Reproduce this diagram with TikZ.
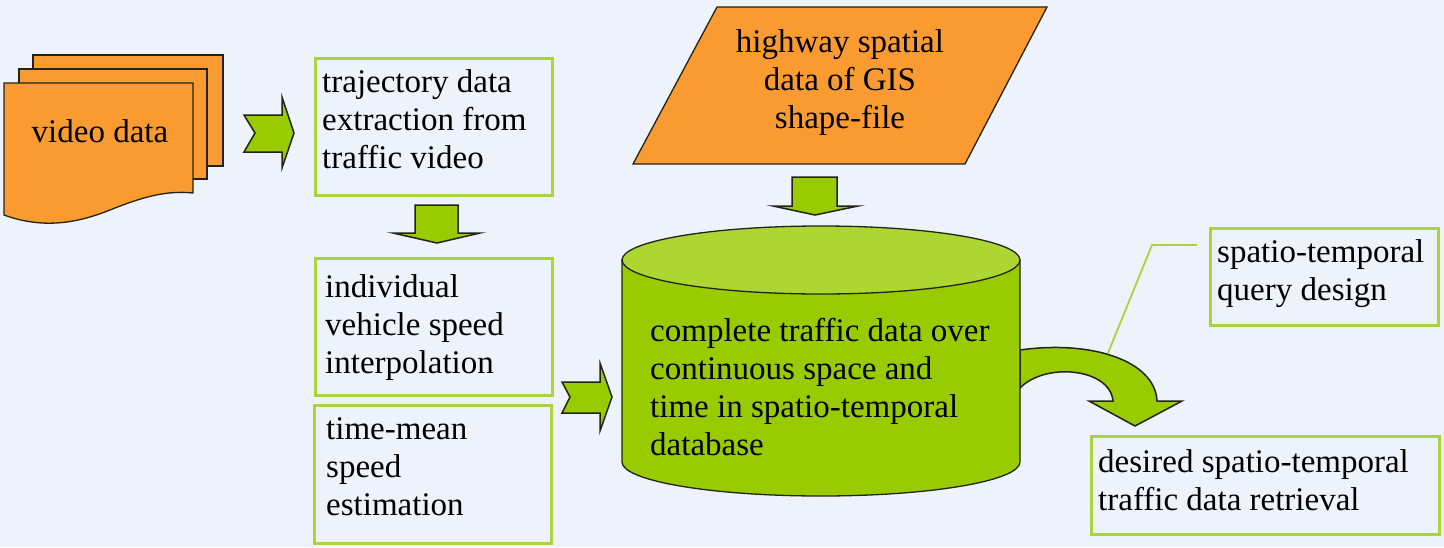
\documentclass[tikz,border=0pt]{standalone}
\usepackage{fontspec}
\setmainfont{Liberation Serif}
\newfontfamily\serf{Liberation Serif}
\definecolor{bgc}{RGB}{238,242,250}
\definecolor{orng}{RGB}{250,155,50}
\definecolor{grn}{RGB}{153,204,0}
\definecolor{grnlt}{RGB}{172,214,50}
\definecolor{boxg}{RGB}{170,212,60}
\definecolor{outl}{RGB}{35,35,25}
\begin{document}
\begin{tikzpicture}[x=1pt,y=-1pt,
  txt/.style={inner sep=0pt, align=left, font=\serf\fontsize{33}{38}\selectfont, text=black},
  gbox/.style={draw=boxg, line width=2.5pt, inner sep=0pt, anchor=north west},
  blockarrow/.style={fill=grn, draw=outl, line width=1.5pt, line join=miter},
  sheet/.style={fill=orng, draw=outl, line width=1.3pt},
  callout/.style={draw=boxg, line width=1.8pt}]
\fill[bgc] (0,0) rectangle (1444,547);
\useasboundingbox (0,0) rectangle (1444,547);

% video data stacked documents
\draw[sheet] (33,55) rectangle (223,166);
\draw[sheet] (19,69) rectangle (207,179);
\draw[sheet] (4,83) -- (193,83) -- (193,193)
  .. controls (165,190) and (140,198) .. (110,210)
  .. controls (80,222) and (45,230) .. (4,215) -- cycle;
\node[txt, anchor=base] (video) at (100,142) {video data};

% arrow video -> trajectory
\draw[blockarrow] (244,115) -- (282,115) -- (282,97) -- (294,133) -- (282,168) -- (282,152) -- (244,152) -- (255,133) -- cycle;

% boxes on left column
\node[gbox, minimum width=237pt, minimum height=137pt] (traj) at (314,57) {};
\node[txt, anchor=base west] (trajt) at (322,168) {trajectory data\\extraction from\\traffic video};

\draw[blockarrow] (415,205) -- (458,205) -- (458,233) -- (480,233) -- (437,243) -- (393,233) -- (415,233) -- cycle;

\node[gbox, minimum width=237pt, minimum height=137pt] (indiv) at (314,257) {};
\node[txt, anchor=base west] (indivt) at (325,373) {individual\\vehicle speed\\interpolation};

\node[gbox, minimum width=237pt, minimum height=138pt] (tmean) at (313,404) {};
\node[txt, anchor=base west] (tmeant) at (326,515) {time-mean\\speed\\estimation};

% arrow left column -> database
\draw[blockarrow] (562,382) -- (600,382) -- (600,363) -- (612,397) -- (600,431) -- (600,413) -- (562,413) -- (570,397) -- cycle;

% highway parallelogram
\draw[fill=orng, draw=outl, line width=1.3pt] (717,7) -- (1047,7) -- (965,164) -- (633,164) -- cycle;
\node[txt, align=center, anchor=base] (hwy) at (840,128) {highway spatial\\data of GIS\\shape-file};

\draw[blockarrow] (792,177) -- (837,177) -- (837,206) -- (858,206) -- (815,215) -- (773,206) -- (792,206) -- cycle;

% curved arrow database -> retrieval
\draw[blockarrow] (1020,350) .. controls (1090,340) and (1155,360) .. (1157,401)
  -- (1182,401) -- (1135,426) -- (1089,401) -- (1113,401)
  .. controls (1110,368) and (1045,362) .. (1020,388) -- cycle;

% database cylinder
\draw[fill=grn, draw=outl, line width=1.3pt] (622,260) -- (622,462)
  arc[start angle=180, end angle=360, x radius=199pt, y radius=34pt] -- (1020,260) -- cycle;
\draw[fill=grnlt, draw=outl, line width=1.3pt] (821,260) ellipse [x radius=199pt, y radius=34pt];
\node[txt, anchor=base west] (dbt) at (650,455) {complete traffic data over\\continuous space and\\time in spatio-temporal\\database};

% query design box and callout
\node[gbox, minimum width=228pt, minimum height=97pt] (query) at (1209,227) {};
\node[txt, anchor=base west] (queryt) at (1217,300) {spatio-temporal\\query design};
\coordinate (c1) at (1197,245);
\coordinate (c2) at (1152,245);
\coordinate (c3) at (1108,353);
\draw[callout] (c1) -- (c2) -- (c3);

% retrieval box
\node[gbox, minimum width=348pt, minimum height=98pt] (ret) at (1090,435) {};
\node[txt, anchor=base west] (rett) at (1098,510) {desired spatio-temporal\\traffic data retrieval};
\end{tikzpicture}
\end{document}
